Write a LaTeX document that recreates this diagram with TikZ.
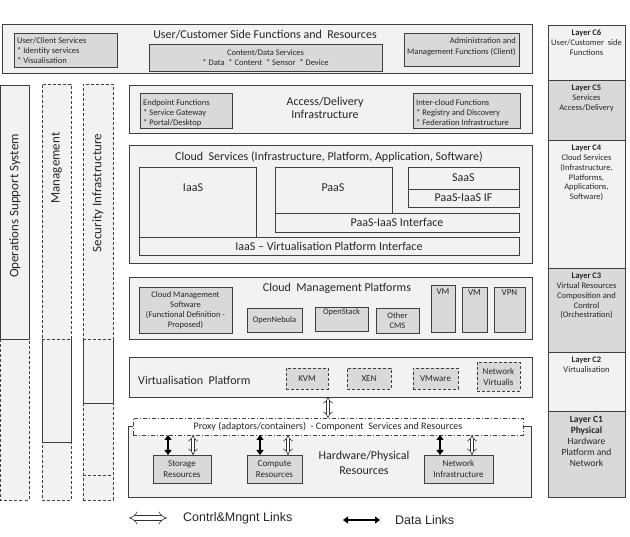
\documentclass[tikz,border=0pt]{standalone}
\usepackage{fontspec}
\setmainfont{Carlito}
\newfontfamily\arialf{Liberation Sans}
\usetikzlibrary{arrows.meta}
\definecolor{lightf}{HTML}{F2F2F2}
\definecolor{greyf}{HTML}{D9D9D9}
\definecolor{edge}{HTML}{3F3F3F}
\newcommand\fs[1]{\fontsize{#1}{\fpeval{#1*1.2}}\selectfont}
\newcommand\fsb[2]{\fontsize{#1}{#2}\selectfont}
\newcommand\bx[7]{\node[#6, minimum width={(#4-#2)*1pt}, minimum height={(#5-#3)*1pt}] (#1) at ({(#2+#4)/2},{(#3+#5)/2}) {#7};}
\tikzset{
  base/.style={draw=edge, line width=0.9pt, inner sep=0pt, outer sep=0pt, text=black!85, align=center},
  outerbox/.style={base, fill=lightf},
  greybox/.style={base, fill=greyf},
  lightbox/.style={base, fill=lightf},
  dashbox/.style={base, fill=greyf, dash pattern=on 3pt off 2pt},
  dashdotbox/.style={base, fill=white, dash pattern=on 4pt off 2pt on 1pt off 2pt},
  colsolid/.style={draw=edge, line width=0.9pt},
  coldash/.style={draw=edge, line width=0.9pt, dash pattern=on 3pt off 2pt},
  txt/.style={inner sep=0pt, text=black!85, align=center},
  ltxt/.style={inner sep=0pt, text=black!85, align=left},
  layertxt/.style={txt, font=\fsb{8.5}{9.8}, anchor=north},
  hollow/.style={draw=black!80, line width=0.6pt, double=white, double distance=2.8pt, {Implies}-{Implies}},
  solidarr/.style={draw=black, line width=1.8pt, {Triangle[length=5pt,width=7pt]}-{Triangle[length=5pt,width=7pt]}},
}
\begin{document}
\begin{tikzpicture}[x=1pt,y=-1pt]
\useasboundingbox (0,0) rectangle (630,537);

% ---------- top box ----------
\bx{utop}{2}{24}{532}{73}{outerbox}{}
\node[txt,font=\fs{12}] (utoptitle) at (265,35) {User/Customer Side Functions and\ \ Resources};
\bx{ucs}{14}{33}{117}{67}{greybox}{}
\node[ltxt,font=\fsb{8.5}{10},anchor=west] (ucst) at (17,51) {User/Client Services\\* Identity services\\* Visualisation};
\bx{cds}{149}{44}{382}{71}{greybox}{}
\node[txt,font=\fsb{8.5}{10}] (cdst) at (265.5,58) {Content/Data Services\\* Data\ \ * Content\ \ * Sensor\ \ * Device};
\bx{adm}{404}{33}{519}{66}{greybox}{}
\node[txt,align=right,font=\fsb{8.5}{11},anchor=east] (admt) at (516,46.5) {Administration and\\Management Functions (Client)};

% ---------- right layer column ----------
\bx{c6}{548}{25}{625}{80}{lightbox}{}
\bx{c5}{548}{80}{625}{140}{greybox}{}
\bx{c4}{548}{140}{625}{268}{lightbox}{}
\bx{c3}{548}{268}{625}{352}{greybox}{}
\bx{c2}{548}{352}{625}{411}{lightbox}{}
\bx{c1}{548}{411}{625}{497}{greybox}{}
\node[layertxt] (c6t) at ([yshift=-5pt]c6.north) {\textbf{Layer C6}\\User/Customer\ \ side\\Functions};
\node[layertxt] (c5t) at ([yshift=-5pt]c5.north) {\textbf{Layer C5}\\Services\\Access/Delivery};
\node[layertxt] (c4t) at ([yshift=-5pt]c4.north) {\textbf{Layer C4}\\Cloud Services\\(Infrastructure,\\Platforms,\\Applications,\\Software)};
\node[layertxt] (c3t) at ([yshift=-5pt]c3.north) {\textbf{Layer C3}\\Virtual Resources\\Composition and\\Control\\(Orchestration)};
\node[layertxt] (c2t) at ([yshift=-5pt]c2.north) {\textbf{Layer C2}\\Virtualisation};
\node[layertxt,font=\fsb{9.5}{11}] (c1t) at ([yshift=-5pt]c1.north) {\textbf{Layer C1}\\\textbf{Physical}\\Hardware\\Platform and\\Network};

% ---------- left columns ----------
% Operations Support System
\fill[lightf] (0.5,85) rectangle (29,500);
\draw[coldash] (0.5,339) -- (0.5,500) -- (29,500) -- (29,339);
\bx{oss}{0.5}{85}{29}{339}{lightbox}{}
\node[txt,font=\fs{13}] [rotate=90] (osst) at (15,206) {Operations Support System};
% Management
\bx{mgcol}{42}{84}{71}{500}{base,fill=lightf,dash pattern=on 3pt off 2pt}{}
\draw[colsolid] (42,339) -- (42,442) -- (71,442) -- (71,339);
\draw[coldash] (42,339) -- (71,339);
\node[txt,font=\fs{13},rotate=90] (mgt) at (56.5,168) {Management};
% Security Infrastructure
\bx{secol}{83}{84}{113}{500}{base,fill=lightf,dash pattern=on 3pt off 2pt}{}
\draw[colsolid] (83,339) -- (83,403) -- (113,403) -- (113,339);
\draw[coldash] (83,339) -- (113,339);
\draw[coldash] (83,475) -- (113,475);
\node[txt,font=\fs{13},rotate=90] (sect) at (98,193) {Security Infrastructure};

% ---------- Access / Delivery ----------
\bx{acc}{129}{85}{532}{133}{outerbox}{}
\node[txt,font=\fsb{12}{13.5}] (acct) at (325,108) {Access/Delivery\\Infrastructure};
\bx{endp}{140}{93}{232}{128}{greybox}{}
\node[ltxt,font=\fsb{8.5}{10},anchor=west] (endpt) at (143,113) {Endpoint Functions\\* Service Gateway\\* Portal/Desktop};
\bx{icf}{413}{93}{520}{128}{greybox}{}
\node[ltxt,font=\fsb{8.5}{10},anchor=west] (icft) at (416,113) {Inter-cloud Functions\\* Registry and Discovery\\* Federation Infrastructure};

% ---------- Cloud services ----------
\bx{cs}{129}{145}{532}{263}{outerbox}{}
\node[txt,font=\fs{12}] (cst) at (329,157) {Cloud\ \ Services (Infrastructure, Platform, Application, Software)};
\bx{iaas}{139}{167}{256}{237}{lightbox}{}
\node[txt,font=\fs{12}] (iaast) at (193,188) {IaaS};
\bx{paas}{275}{167}{392}{213}{lightbox}{}
\node[txt,font=\fs{12}] (paast) at (333,188) {PaaS};
\bx{saas}{408}{167}{519}{189}{lightbox,font=\fs{12}}{SaaS}
\bx{pif}{408}{189}{519}{207}{lightbox,font=\fs{12}}{PaaS-IaaS IF}
\bx{pii}{275}{213}{519}{232}{lightbox,font=\fs{12}}{PaaS-IaaS Interface}
\bx{ivpi}{139}{237}{519}{255}{lightbox,font=\fs{12}}{IaaS -- Virtualisation Platform Interface}

% ---------- Cloud management platforms ----------
\bx{cmp}{129}{277}{532}{339}{outerbox}{}
\node[txt,font=\fs{12}] (cmpt) at (337,288) {Cloud\ \ Management Platforms};
\bx{cms}{139}{287}{232}{333}{greybox,font=\fsb{8.5}{10}}{Cloud Management\\Software\\(Functional Definition -\\Proposed)}
\bx{onb}{247}{308}{302}{332}{greybox,font=\fs{8.5}}{OpenNebula}
\bx{ost}{315}{307}{368}{331}{greybox,font=\fs{8.5}}{OpenStack\\[4pt]}
\bx{ocms}{376}{308}{419}{333}{greybox,font=\fsb{8.5}{10}}{Other\\CMS}
\bx{vma}{431}{285}{455}{332}{greybox,font=\fs{9}}{VM\\[22pt]}
\bx{vmb}{462}{287}{487}{332}{greybox,font=\fs{9}}{VM\\[22pt]}
\bx{vpn}{494}{287}{525}{332}{greybox,font=\fs{9}}{VPN\\[22pt]}

% ---------- Virtualisation platform ----------
\bx{virt}{129}{357}{532}{397}{outerbox}{}
\node[txt,font=\fs{12},anchor=west] (virtt) at (138,380) {Virtualisation\ \ Platform};
\bx{kvm}{286}{368}{328}{389}{dashbox,font=\fs{9}}{KVM}
\bx{xen}{347}{368}{391}{389}{dashbox,font=\fs{9}}{XEN}
\bx{vmw}{413}{368}{458}{389}{dashbox,font=\fs{9}}{VMware}
\bx{nvirt}{477}{362}{520}{391}{dashbox,font=\fsb{9}{11}}{Network\\Virtualis}

% ---------- Hardware / physical ----------
\bx{hw}{128}{426}{531}{497}{outerbox}{}
\bx{proxy}{133}{418}{523}{435}{dashdotbox,font=\fs{10}}{Proxy (adaptors/containers)\ \ - Component\ \ Services and Resources}
\node[txt,font=\fsb{12}{15}] (hwt) at (364,463) {Hardware/Physical\\Resources};
\bx{stor}{153}{455}{211}{483}{greybox,font=\fsb{9}{11}}{Storage\\Resources}
\bx{comp}{247}{455}{302}{483}{greybox,font=\fsb{9}{11}}{Compute\\Resources}
\bx{netinf}{424}{455}{493}{483}{greybox,font=\fsb{9}{11}}{Network\\Infrastructure}

% ---------- links ----------
\draw[hollow] ([xshift=-2.5pt]virt.south) -- ([xshift=-2.5pt]virt.south |- proxy.north);
\draw[solidarr] ([xshift=-14pt]stor.north) -- ([xshift=-14pt]stor.north |- proxy.south);
\draw[hollow] ([xshift=11pt]stor.north) -- ([xshift=11pt]stor.north |- proxy.south);
\draw[solidarr] ([xshift=-14.5pt]comp.north) -- ([xshift=-14.5pt]comp.north |- proxy.south);
\draw[hollow] ([xshift=13.5pt]comp.north) -- ([xshift=13.5pt]comp.north |- proxy.south);
\draw[solidarr] ([xshift=-18.5pt]netinf.north) -- ([xshift=-18.5pt]netinf.north |- proxy.south);
\draw[hollow] ([xshift=13.5pt]netinf.north) -- ([xshift=13.5pt]netinf.north |- proxy.south);

% ---------- legend ----------
\coordinate (la) at (129,518);
\coordinate (lb) at (167,518);
\coordinate (lc) at (343,520);
\coordinate (ld) at (380,520);
\draw[draw=black!80, line width=0.6pt, double=white, double distance=4pt, {Implies[length=5pt]}-{Implies[length=5pt]}] (la) -- (lb);
\node[txt,font=\arialf\fs{12.5},anchor=west] (lgt1) at (183,518) {Contrl\&Mngnt Links};
\draw[solidarr] (lc) -- (ld);
\node[txt,font=\arialf\fs{12.5},anchor=west] (lgt2) at (395,520) {Data Links};
\end{tikzpicture}
\end{document}
